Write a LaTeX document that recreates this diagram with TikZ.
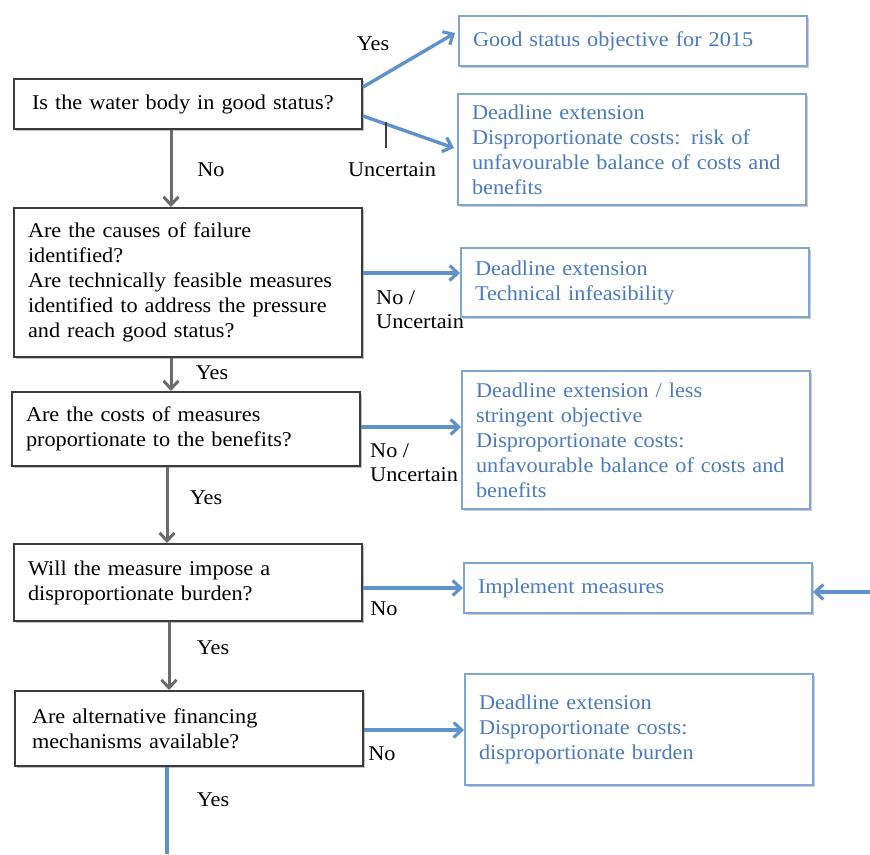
\documentclass[tikz,border=0pt]{standalone}
\usepackage{fontspec}
\setmainfont[FakeStretch=1.06]{Liberation Serif}
\usetikzlibrary{arrows.meta,shadows}
\definecolor{qblue}{HTML}{4A7BBB}
\definecolor{bblue}{HTML}{7FA6D3}
\definecolor{ablue}{HTML}{5E92C9}
\definecolor{qgray}{HTML}{6B6B6B}
\definecolor{qedge}{HTML}{3C3C3C}
\tikzset{
  qbox/.style={draw=qedge, line width=2pt, fill=white, anchor=north west,
    minimum width=348pt, text width=320pt, align=left, inner xsep=14pt, inner ysep=0pt,
    font=\fontsize{21}{25}\selectfont, text=black,
    drop shadow={shadow xshift=1.5pt, shadow yshift=-1.5pt, opacity=0.25, fill=black}},
  abox/.style={draw=bblue, line width=2pt, fill=white, anchor=north west,
    minimum width=348pt, text width=320pt, align=left, inner xsep=14pt, inner ysep=0pt,
    font=\fontsize{21}{25}\selectfont, text=qblue,
    drop shadow={shadow xshift=1.5pt, shadow yshift=-1.5pt, opacity=0.2, fill=black}},
  barrow/.style={draw=ablue, line width=3.4pt, -{Straight Barb[length=8pt,width=15pt,line width=3.2pt]}},
  garrow/.style={draw=qgray, line width=3pt, -{Straight Barb[length=8pt,width=15pt,line width=3pt]}},
  lbl/.style={font=\fontsize{21}{24}\selectfont, text=black, align=left, inner sep=0pt}
}
\begin{document}
\begin{tikzpicture}[x=1pt,y=-1pt]
\useasboundingbox[fill=white] (0,0) rectangle (870,854);
% left question boxes
\node[qbox, minimum height=50pt] (q1) at (13,78) {\hspace*{4pt}Is the water body in good status?};
\node[qbox, minimum height=149pt] (q2) at (13,207) {Are the causes of failure\\identified?\\Are technically feasible measures\\identified to address the pressure\\and reach good status?};
\node[qbox, minimum height=74pt] (q3) at (11,391) {Are the costs of measures\\proportionate to the benefits?};
\node[qbox, minimum height=77pt] (q4) at (13,543) {Will the measure impose a\\disproportionate burden?};
\node[qbox, minimum height=75pt] (q5) at (14,690) {\hspace*{3pt}Are alternative financing\\\hspace*{3pt}mechanisms available?};
% right outcome boxes
\node[abox, minimum height=50pt] (r1) at (458,15) {\raisebox{2pt}{Good status objective for 2015}};
\node[abox, minimum height=111pt] (r2) at (457,93) {Deadline extension\\Disproportionate costs: risk of\\unfavourable balance of costs and\\benefits};
\node[abox, minimum height=69pt] (r3) at (460,247) {Deadline extension\\Technical infeasibility\\[8pt]};
\node[abox, minimum height=138pt] (r4) at (461,370) {Deadline extension / less\\stringent objective\\Disproportionate costs:\\unfavourable balance of costs and\\benefits\\[-2pt]};
\node[abox, minimum height=50pt] (r5) at (463,562) {\raisebox{3pt}{Implement measures}};
\node[abox, minimum height=111pt] (r6) at (464,673) {Deadline extension\\Disproportionate costs:\\disproportionate burden\\[8pt]};
% coordinates
\coordinate (q1a) at (363,87);
\coordinate (q1b) at (363,116);
\coordinate (r1a) at (455,33);
\coordinate (r2a) at (454,148);
\coordinate (tk1) at (386,122);
\coordinate (tk2) at (386,148);
\coordinate (q5end) at (167,854);
\coordinate (rin) at (870,592);
% connectors
\draw[barrow] (q1a) -- (r1a);
\draw[barrow] (q1b) -- (r2a);
\draw[qedge, line width=1.2pt] (tk1) -- (tk2);
\draw[garrow] (171,130) -- (q2.north -| 171,0);
\draw[barrow] (q2.east |- 0,273) -- (r3.west |- 0,273);
\draw[garrow] (171,358) -- (q3.north -| 171,0);
\draw[barrow] (q3.east |- 0,427) -- (r4.west |- 0,427);
\draw[garrow] (167,467) -- (q4.north -| 167,0);
\draw[barrow] (q4.east |- 0,588) -- (r5.west |- 0,588);
\draw[garrow] (169,622) -- (q5.north -| 169,0);
\draw[barrow] (q5.east |- 0,730) -- (r6.west |- 0,730);
\draw[draw=ablue, line width=3.4pt] (q5.south -| 167,0) -- (q5end);
\draw[barrow] (rin) -- (r5.east |- 0,592);
% labels
\node[lbl] (l1) at (373,44) {Yes};
\node[lbl] (l2) at (392,170) {Uncertain};
\node[lbl] (l3) at (211,170) {No};
\node[lbl, anchor=north west] (l4) at (376,290) {No /\\Uncertain};
\node[lbl] (l5) at (212,373) {Yes};
\node[lbl, anchor=north west] (l6) at (370,443) {No /\\Uncertain};
\node[lbl] (l7) at (206,498) {Yes};
\node[lbl] (l8) at (384,609) {No};
\node[lbl] (l9) at (213,648) {Yes};
\node[lbl] (l10) at (382,754) {No};
\node[lbl] (l11) at (213,800) {Yes};
\end{tikzpicture}
\end{document}
